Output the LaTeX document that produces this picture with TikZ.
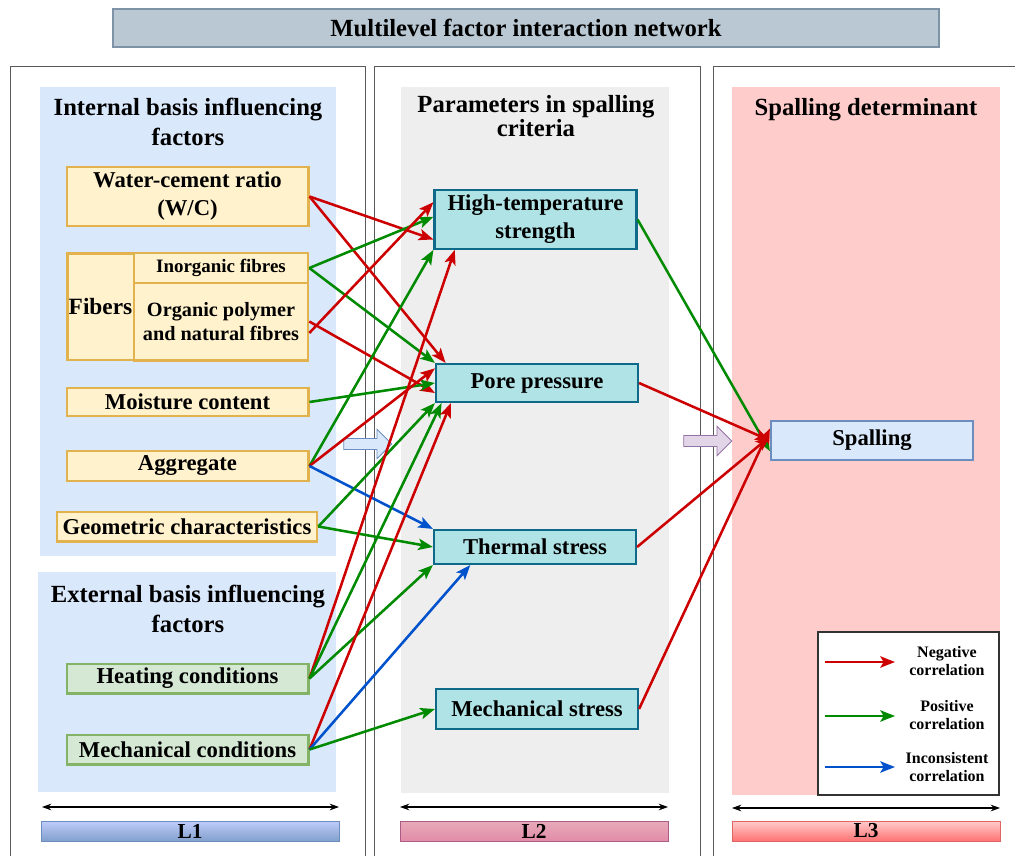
\documentclass[tikz,border=0pt]{standalone}
\usepackage{fontspec}
\setmainfont{Liberation Serif}
\usetikzlibrary{arrows.meta,shapes.arrows}

\definecolor{negred}{RGB}{204,0,0}
\definecolor{posgreen}{RGB}{0,138,0}
\definecolor{incblue}{RGB}{0,82,204}
\definecolor{intfill}{HTML}{DAE8FC}
\definecolor{parfill}{HTML}{EEEEEE}
\definecolor{detfill}{HTML}{FFCCCC}
\definecolor{yelfill}{HTML}{FFF2CC}
\definecolor{yeledge}{HTML}{E2B24E}
\definecolor{grnfill}{HTML}{D5E8D4}
\definecolor{grnedge}{HTML}{82B366}
\definecolor{tealfill}{HTML}{B0E3E6}
\definecolor{tealedge}{HTML}{0E6A88}
\definecolor{blufill}{HTML}{DAE8FC}
\definecolor{bluedge}{HTML}{6C8EBF}
\definecolor{ttlfill}{HTML}{BAC8D3}
\definecolor{ttledge}{HTML}{7F93A6}
\definecolor{purfill}{HTML}{E1D5E7}
\definecolor{puredge}{HTML}{9673A6}

\tikzset{
  heading/.style={font=\bfseries\fontsize{18.5}{22.5}\selectfont, align=center, inner sep=0pt},
  factor/.style={draw=yeledge, fill=yelfill, line width=2pt, align=center, inner sep=0pt,
    minimum width=181pt, font=\bfseries\fontsize{17}{21}\selectfont},
  extfactor/.style={factor, draw=grnedge, fill=grnfill},
  param/.style={draw=tealedge, fill=tealfill, line width=1.6pt, align=center, inner sep=0pt,
    minimum width=151.5pt, font=\bfseries\fontsize{17}{21}\selectfont},
  outcome/.style={param, draw=bluedge, fill=blufill},
  colframe/.style={draw=black!65, line width=0.75pt},
  link/.style={line width=1.9pt, -{Stealth[length=11pt,width=8.5pt,inset=2.5pt]}},
  neglink/.style={link, negred},
  poslink/.style={link, posgreen},
  inclink/.style={link, incblue},
  levelspan/.style={line width=0.8pt, {Stealth[length=7pt,width=5pt]}-{Stealth[length=7pt,width=5pt]}},
  levelbar/.style={line width=0.6pt, font=\bfseries\fontsize{16}{18}\selectfont, inner sep=0pt,
    minimum width=223.5pt, minimum height=15pt},
  flowarrow/.style={single arrow, minimum height=36pt, minimum width=22pt, inner sep=3.5pt,
    single arrow head extend=6.5pt, line width=0.6pt},
  legtext/.style={font=\bfseries\fontsize{12}{14}\selectfont, align=center, inner sep=0pt}
}

\begin{document}
\begin{tikzpicture}[x=0.75pt,y=0.75pt,yscale=-1]
\useasboundingbox (0,0) rectangle (1015,856);

%Title
\node[draw=ttledge, fill=ttlfill, line width=0.8pt, minimum width=619.5pt, minimum height=28.5pt,
  font=\bfseries\fontsize{18.5}{20}\selectfont] (title) at (526,28) {Multilevel factor interaction network};

%Column frames
\draw[colframe] (10,870) -- (10,67) -- (365,67) -- (365,870);
\draw[colframe] (374,870) -- (374,67) -- (700,67) -- (700,870);
\draw[colframe] (713,870) -- (713,67) -- (1030,67);

%Background panels
\fill[intfill] (40,87) rectangle (336,556);
\fill[intfill] (38,572) rectangle (336,792);
\fill[parfill] (401,87) rectangle (669,793);
\fill[detfill] (732,87) rectangle (1000,795);

% Text Node
\node[heading] (hint) at (188,122) {Internal basis influencing\\factors};
\node[heading] (hext) at (188,609) {External basis influencing\\factors};
\node[heading, font=\bfseries\fontsize{18.5}{18}\selectfont] (hpar) at (536,116) {Parameters in spalling\\criteria};
\node[heading] (hdet) at (866,110) {Spalling determinant};

%L1 factors
\node[factor, minimum height=44pt] (wc) at (187.5,196.5) {Water-cement ratio\\(W/C)};
\node[factor, minimum width=50pt, minimum height=80pt, font=\bfseries\fontsize{17.5}{21}\selectfont] (fib) at (100.5,306.5) {Fibers};
\node[factor, minimum width=130.5pt, minimum height=22.5pt, font=\bfseries\fontsize{14.2}{16}\selectfont] (inorg) at (221,268) {Inorganic fibres};
\node[factor, minimum width=130.5pt, minimum height=58pt, font=\bfseries\fontsize{15.2}{18}\selectfont] (org) at (221,321.5) {Organic polymer\\and natural fibres};
\node[factor, minimum height=21pt] (moist) at (187.5,402) {Moisture content};
\node[factor, minimum height=22.5pt] (aggr) at (187.5,466) {Aggregate};
\node[factor, minimum width=195pt, minimum height=22pt] (geom) at (187,526.5) {Geometric characteristics};
\node[extfactor, minimum height=22pt] (heat) at (187.5,678.5) {Heating conditions};
\node[extfactor, minimum height=22pt] (mechc) at (187.5,749.5) {Mechanical conditions};

%L2 parameters
\node[param, minimum height=44pt] (hts) at (535.5,219.5) {High-temperature\\strength};
\node[param, minimum height=28.5pt] (pore) at (537,383) {Pore pressure};
\node[param, minimum height=25.5pt] (therm) at (535,547) {Thermal stress};
\node[param, minimum height=30pt] (mech) at (537,709) {Mechanical stress};

%L3 outcome
\node[outcome, minimum height=29pt] (spall) at (872,440.5) {Spalling};

%Flow arrows between levels
\node[flowarrow, draw=bluedge, fill=blufill] (flowa) at (365,444) {};
\node[flowarrow, draw=puredge, fill=purfill] (flowb) at (705,441) {};

%L1 -> L2
\draw[neglink] (wc.east) -- ([yshift=15pt]hts.west);
\draw[neglink] (wc.east) -- ([xshift=8pt]pore.north west);
\draw[poslink] (inorg.east) -- ([yshift=-2pt]hts.west);
\draw[poslink] (inorg.east) -- (pore.north west);
\draw[neglink] ([yshift=8.6pt]org.east) -- ([yshift=-13pt]hts.west);
\draw[neglink] (org.east) -- ([yshift=7.5pt]pore.west);
\draw[poslink] (moist.east) -- (pore.west);
\draw[poslink] (aggr.east) -- (hts.south west);
\draw[neglink] (aggr.east) -- ([yshift=-11pt]pore.west);
\draw[inclink] (aggr.east) -- (therm.north west);
\draw[poslink] (geom.east) -- (pore.south west);
\draw[poslink] (geom.east) -- (therm.west);
\draw[neglink] (heat.east) -- ([xshift=16pt]hts.south west);
\draw[poslink] (heat.east) -- ([xshift=5pt]pore.south west);
\draw[poslink] (heat.east) -- (therm.south west);
\draw[neglink] (mechc.east) -- ([xshift=12pt]pore.south west);
\draw[inclink] (mechc.east) -- ([xshift=28pt]therm.south west);
\draw[poslink] (mechc.east) -- (mech.west);

%L2 -> L3
\draw[poslink] (hts.east) -- ([yshift=8pt]spall.west);
\draw[neglink] (pore.east) -- (spall.west);
\draw[neglink] (therm.east) -- ([yshift=-3pt]spall.west);
\draw[neglink] (mech.east) -- ([yshift=-9pt]spall.west);

%Legend
\node[draw=black!80, fill=white, line width=0.8pt, minimum width=135.75pt, minimum height=122.25pt, inner sep=0pt] (legend) at (908.5,713.5) {};
\coordinate (ln1) at (825,662); \coordinate (ln2) at (895,662);
\coordinate (lp1) at (825,716); \coordinate (lp2) at (895,716);
\coordinate (li1) at (825,767); \coordinate (li2) at (895,767);
\draw[neglink] (ln1) -- (ln2);
\draw[poslink] (lp1) -- (lp2);
\draw[inclink] (li1) -- (li2);
\node[legtext] (tneg) at (947,661) {Negative\\correlation};
\node[legtext] (tpos) at (947,715) {Positive\\correlation};
\node[legtext] (tinc) at (947,767) {Inconsistent\\correlation};

%Level spans
\coordinate (s1a) at (42,807); \coordinate (s1b) at (339,807);
\coordinate (s2a) at (400,807); \coordinate (s2b) at (668,807);
\coordinate (s3a) at (732,808); \coordinate (s3b) at (1000,808);
\draw[levelspan] (s1a) -- (s1b);
\draw[levelspan] (s2a) -- (s2b);
\draw[levelspan] (s3a) -- (s3b);

%Level bars
\node[levelbar, draw=bluedge, top color=blue!12!intfill, bottom color=bluedge!80!intfill] (l1) at (190,831) {L1};
\node[levelbar, minimum width=201pt, draw=puredge!80!red, top color=red!20!purfill, bottom color=purple!45!white] (l2) at (534,831) {L2};
\node[levelbar, minimum width=201pt, draw=negred!60!white, top color=red!20!white, bottom color=red!55!white] (l3) at (866,831) {L3};
\end{tikzpicture}
\end{document}
